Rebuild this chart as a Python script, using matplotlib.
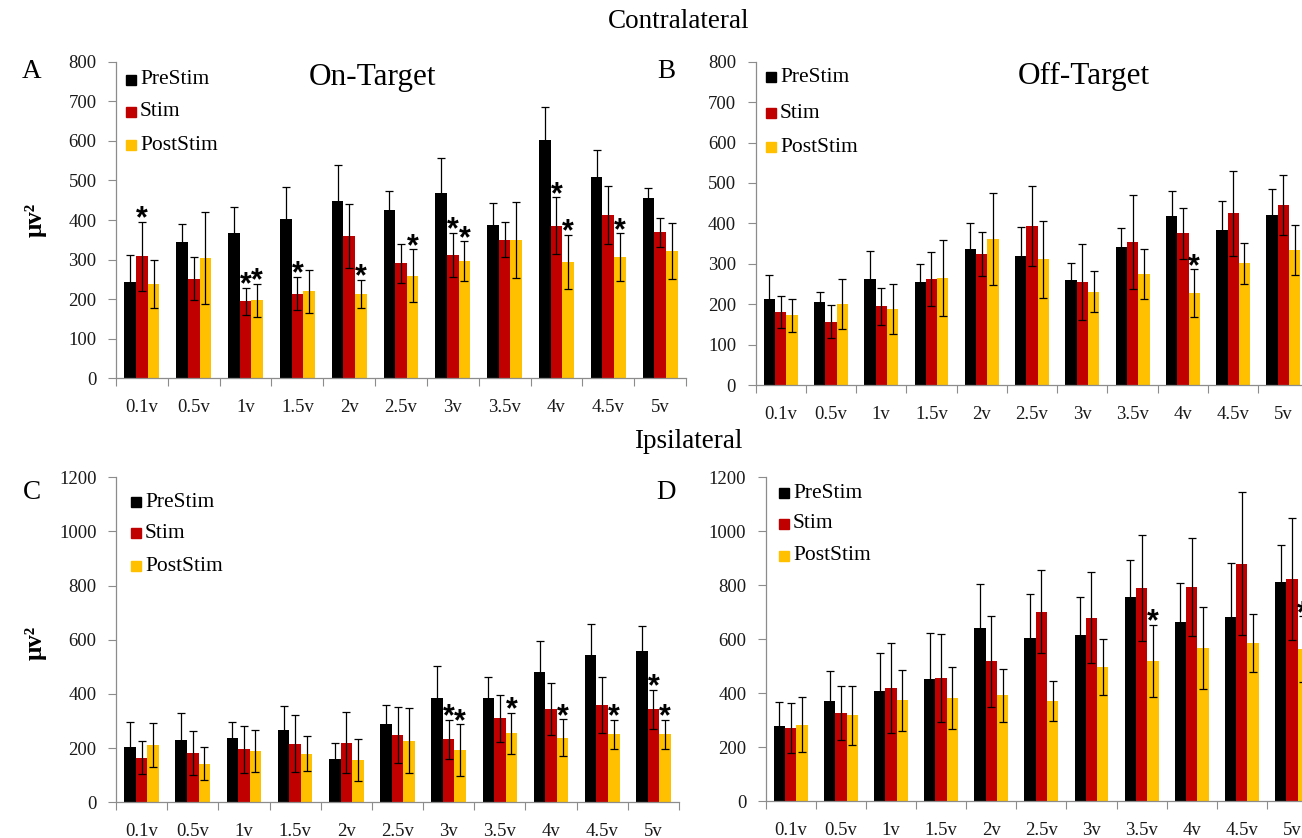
import numpy as np
import matplotlib.pyplot as plt
from matplotlib.patches import Rectangle

plt.rcParams['font.family'] = ['Liberation Serif', 'DejaVu Serif']

W, H = 1302, 838

volts = ['0.1v', '0.5v', '1v', '1.5v', '2v', '2.5v', '3v', '3.5v', '4v', '4.5v', '5v']
conditions = ['PreStim', 'Stim', 'PostStim']
colors = ['#000000', '#C00000', '#FFC000']

# contralateral, on-target
a_pre = [243, 344, 367, 402, 449, 426, 467, 388, 601, 508, 455]
a_pre_err = [69, 46, 67, 81, 90, 47, 90, 54, 84, 69, 25]
a_stim = [308, 252, 195, 214, 360, 291, 312, 350, 386, 413, 369]
a_stim_err = [88, 54, 34, 42, 81, 49, 55, 44, 71, 73, 36]
a_post = [238, 304, 197, 220, 213, 259, 296, 349, 294, 306, 321]
a_post_err = [60, 117, 42, 54, 36, 67, 50, 96, 68, 60, 71]
a_stars = [(0, 1), (2, 1), (2, 2), (3, 1), (4, 2), (5, 2), (6, 1), (6, 2), (8, 1), (8, 2), (9, 2)]

# contralateral, off-target
b_pre = [213, 205, 262, 254, 336, 319, 261, 342, 418, 383, 420]
b_pre_err = [60, 26, 70, 45, 66, 73, 41, 47, 61, 73, 65]
b_stim = [181, 157, 195, 262, 324, 393, 256, 353, 375, 425, 445]
b_stim_err = [39, 41, 46, 66, 55, 99, 94, 116, 63, 105, 74]
b_post = [172, 200, 188, 265, 361, 311, 231, 275, 227, 301, 334]
b_post_err = [42, 62, 63, 94, 113, 96, 50, 62, 59, 50, 63]
b_stars = [(8, 2)]

# ipsilateral, on-target
c_pre = [205, 230, 236, 267, 160, 288, 386, 386, 480, 544, 557]
c_pre_err = [90, 100, 60, 90, 60, 73, 117, 76, 115, 116, 93]
c_stim = [165, 183, 195, 217, 220, 248, 233, 311, 344, 359, 344]
c_stim_err = [62, 82, 86, 105, 113, 103, 72, 87, 97, 103, 72]
c_post = [211, 143, 189, 180, 155, 227, 193, 255, 239, 251, 251]
c_post_err = [81, 62, 78, 66, 78, 120, 95, 75, 67, 54, 54]
c_stars = [(6, 1), (6, 2), (7, 2), (8, 2), (9, 2), (10, 1), (10, 2)]

# ipsilateral, off-target
d_pre = [280, 371, 410, 453, 641, 603, 615, 757, 664, 683, 813]
d_pre_err = [86, 110, 139, 172, 163, 165, 141, 138, 146, 199, 138]
d_stim = [272, 327, 420, 457, 518, 702, 680, 791, 794, 880, 823]
d_stim_err = [92, 100, 167, 163, 167, 154, 168, 196, 180, 265, 226]
d_post = [284, 318, 374, 382, 392, 372, 498, 520, 568, 587, 563]
d_post_err = [102, 109, 114, 115, 97, 75, 103, 134, 151, 107, 122]
d_stars = [(7, 2), (10, 2)]


def box(l, t, r, b):
    return [l / W, 1 - b / H, (r - l) / W, (b - t) / H]


def draw_panel(ax, vals, errs, stars, ymax, ystep):
    x = np.arange(len(volts))
    w = 0.225
    for i in range(3):
        ax.bar(x + (i - 1) * w, vals[i], w, color=colors[i], yerr=errs[i],
               capsize=3, error_kw=dict(elinewidth=0.9, capthick=0.9, ecolor='black'))
    # significance marks sit just above the error bar
    for ci, si in stars:
        top = vals[si][ci] + errs[si][ci]
        ax.annotate('*', (ci + (si - 1) * w, top), xytext=(0, -4), textcoords='offset points',
                    ha='center', va='baseline', fontsize=22, fontweight='bold',
                    family='Liberation Sans', annotation_clip=False)
    ax.set_xlim(-0.5, len(volts) - 0.5)
    ax.set_ylim(0, ymax)
    ax.set_yticks(np.arange(0, ymax + 1, ystep))
    ax.set_xticks(x)
    ax.set_xticklabels(volts)
    ax.set_xticks(np.arange(-0.5, len(volts)), minor=True)
    ax.tick_params(axis='x', which='major', length=0, pad=15, labelsize=13.5, colors='#1a1a1a')
    ax.tick_params(axis='x', which='minor', length=6, width=0.8, color='#8c8c8c')
    ax.tick_params(axis='y', length=6, width=0.8, color='#8c8c8c', pad=8,
                   labelsize=13.5, labelcolor='#1a1a1a')
    for side in ['top', 'right']:
        ax.spines[side].set_visible(False)
    for side in ['left', 'bottom']:
        ax.spines[side].set_color('#8c8c8c')
        ax.spines[side].set_linewidth(0.9)


def legend(fig, mx, rows):
    for label, color, y in zip(conditions, colors, rows):
        fig.add_artist(Rectangle(((mx - 5) / W, 1 - (y + 5) / H), 10 / W, 10 / H,
                                 color=color, transform=fig.transFigure))
        fig.text((mx + 9) / W, 1 - y / H, label, fontsize=15.5, va='center', ha='left')


fig = plt.figure(figsize=(W / 100, H / 100), dpi=100)

ax_a = fig.add_axes(box(116, 61.7, 686, 378.3))
ax_b = fig.add_axes(box(755.5, 61.7, 1308.6, 385))
ax_c = fig.add_axes(box(116, 477.3, 679, 802.3))
ax_d = fig.add_axes(box(765.7, 477.3, 1317, 801.3))

draw_panel(ax_a, [a_pre, a_stim, a_post], [a_pre_err, a_stim_err, a_post_err], a_stars, 800, 100)
draw_panel(ax_b, [b_pre, b_stim, b_post], [b_pre_err, b_stim_err, b_post_err], b_stars, 800, 100)
draw_panel(ax_c, [c_pre, c_stim, c_post], [c_pre_err, c_stim_err, c_post_err], c_stars, 1200, 200)
draw_panel(ax_d, [d_pre, d_stim, d_post], [d_pre_err, d_stim_err, d_post_err], d_stars, 1200, 200)

legend(fig, 131, [80, 112, 145])
legend(fig, 771, [77, 113, 147])
legend(fig, 136, [502, 533, 566])
legend(fig, 784, [493, 524, 556])

fig.text(679 / W, 1 - 22 / H, 'Contralateral', fontsize=19.5, ha='center', va='center')
fig.text(688 / W, 1 - 441 / H, 'Ipsilateral', fontsize=19.5, ha='center', va='center')
fig.text(372 / W, 1 - 77 / H, 'On-Target', fontsize=22.5, ha='center', va='center')
fig.text(1084 / W, 1 - 76 / H, 'Off-Target', fontsize=22.5, ha='center', va='center')

for letter, (px, py) in zip('ABCD', [(32, 72), (666, 72), (32, 492), (666, 492)]):
    fig.text(px / W, 1 - py / H, letter, fontsize=19.5, ha='center', va='center')

for py in [220, 643]:
    fig.text(35 / W, 1 - py / H, 'μv²', fontsize=18, fontweight='bold',
             rotation=90, ha='center', va='center')

fig.savefig('out.png', dpi=100)
